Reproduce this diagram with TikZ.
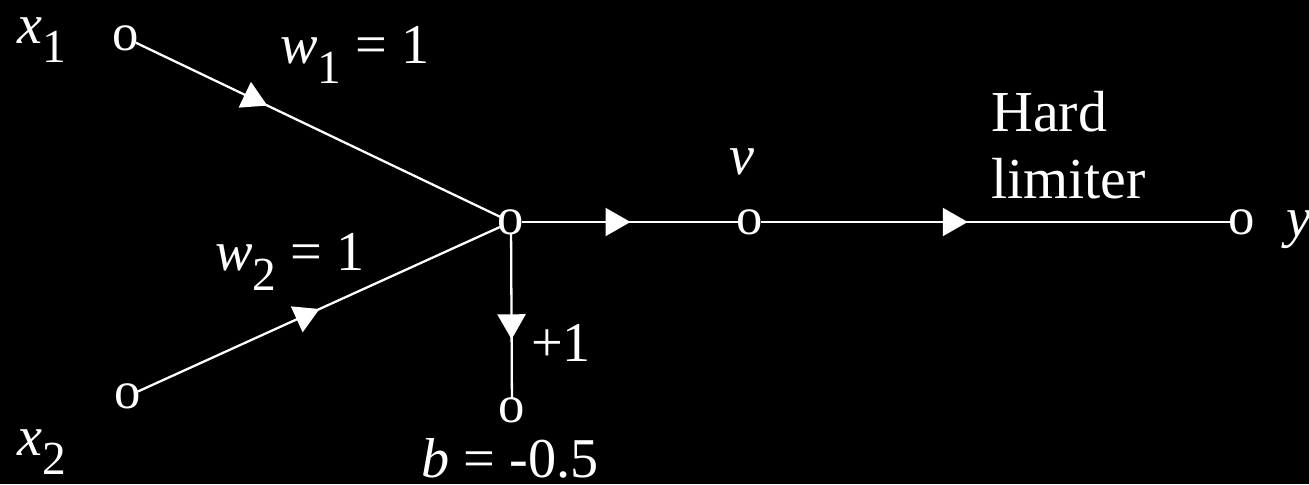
\documentclass[tikz,border=0pt]{standalone}
\usepackage{fontspec}
\setmainfont{Liberation Serif}
\newfontfamily\tms{Liberation Serif}
\usetikzlibrary{arrows.meta,decorations.markings}
\newcommand\subsc[1]{\raisebox{-0.35em}{\fontsize{27}{30}\selectfont #1}}
\begin{document}
\begin{tikzpicture}[x=0.02cm,y=-0.02cm,
  every node/.style={text=white, font=\tms\fontsize{30}{34}\selectfont},
  lab/.style={font=\tms\fontsize{32}{36}\selectfont},
  pt/.style={circle, inner sep=0pt, minimum size=0.42cm, label={center:o}},
  wire/.style={draw=white, line width=1.3pt},
  midarrow/.style={postaction={decorate}, decoration={markings, mark=at position #1 with {\arrow[white]{Triangle[length=0.5cm,width=0.56cm]}}}}]
\useasboundingbox (0,0) rectangle (1309,484);
\fill[black] (0,0) rectangle (1309,484);
\clip (0,0) rectangle (1309,484);
% points
\node[pt] (x1) at (126,38) {};
\node[pt] (x2) at (128,396) {};
\node[pt] (j) at (511,222) {};
\node[pt] (b) at (512,410) {};
\node[pt] (v) at (750,222) {};
\node[pt] (y) at (1242,222) {};
% labels
\node[lab, inner sep=1pt] (lx1) at (42,40) {\textit{x}\subsc{1}};
\node[lab] (lx2) at (42,452) {\textit{x}\subsc{2}};
\node[lab] (lw1) at (355,55) {\textit{w}\subsc{1} = 1};
\node[lab] (lw2) at (290,262) {\textit{w}\subsc{2} = 1};
\node[lab] (lp1) at (561,343) {+1};
\node[lab, inner sep=1pt] (lb) at (510,458) {\textit{b} = -0.5};
\node[lab] (lv) at (742,162) {\textit{v}};
\node[anchor=west, align=left, font=\tms\fontsize{33}{38}\selectfont] (lh) at (985,145) {Hard\\limiter};
\node[lab, anchor=west] (ly) at (1280,230) {\textit{y}};
% wires
\draw[wire, midarrow=0.36] (x1) -- (j);
\draw[wire, midarrow=0.5] (x2) -- (j);
\draw[wire, midarrow=0.64] (j) -- (b);
\draw[wire, midarrow=0.5] (j) -- (v);
\draw[wire, midarrow=0.44] (v) -- (y);
\end{tikzpicture}
\end{document}
